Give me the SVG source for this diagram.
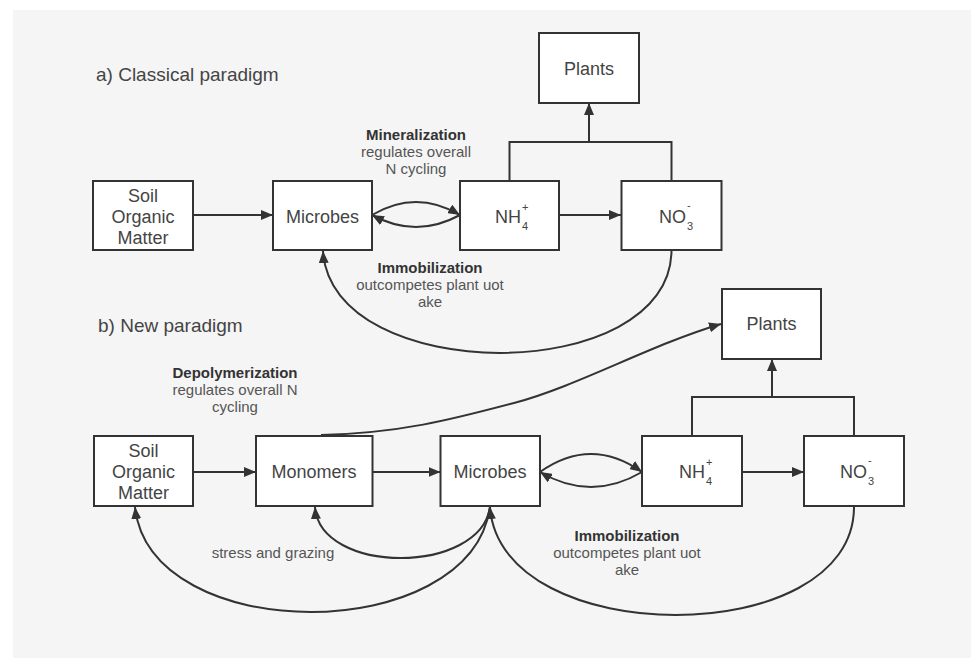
<svg xmlns="http://www.w3.org/2000/svg" width="971" height="668" viewBox="0 0 971 668">
<defs>
<marker id="arr" markerUnits="userSpaceOnUse" markerWidth="12" markerHeight="10" refX="12" refY="5" orient="auto">
<path d="M0,0 L12,5 L0,10 z" fill="#333"/>
</marker>
<style>
.box{fill:#fff;stroke:#333;stroke-width:2}
.lbl{font-family:"Liberation Sans","Noto Sans",sans-serif;font-size:18px;fill:#444;text-anchor:middle}
.sm{font-family:"Liberation Sans","Noto Sans",sans-serif;font-size:11px;fill:#444}
.note{font-family:"Liberation Sans","Noto Sans",sans-serif;font-size:15px;fill:#555;text-anchor:middle}
.bold{font-weight:bold;fill:#333}
.title{font-family:"Liberation Sans","Noto Sans",sans-serif;font-size:19px;fill:#444}
.c{fill:none;stroke:#333;stroke-width:2}
.ca{fill:none;stroke:#333;stroke-width:2;marker-end:url(#arr)}
</style>
</defs>
<rect x="13" y="10" width="958" height="648" fill="#f5f5f5"/>
<text class="title" x="96" y="81">a) Classical paradigm</text>
<text class="title" x="98" y="332">b) New paradigm</text>

<g id="connectors">
<path class="ca" d="M193,215 L273,215"/>
<path class="ca" d="M559,215 L621,215"/>
<path class="ca" d="M372,215 Q416,189 460,215"/>
<path class="ca" d="M460,215 Q416,239 372,215"/>
<path class="c" d="M509.5,181 L509.5,142 L671.5,142 L671.5,181"/>
<path class="ca" d="M589,142 L589,103"/>
<path class="ca" d="M671.5,250 C671.5,387 331,387 323,251"/>
<path class="ca" d="M193,472 L256,472"/>
<path class="ca" d="M372.5,472 L440.5,472"/>
<path class="ca" d="M742,472 L804,472"/>
<path class="ca" d="M540,472 Q591,436 642,472"/>
<path class="ca" d="M642,472 Q591,502 540,472"/>
<path class="c" d="M692,436 L692,397 L854,397 L854,436"/>
<path class="ca" d="M772,397 L772,359"/>
<path class="ca" d="M321,435 C400,433 450,420 514,403 S650,345 721,324"/>
<path class="ca" d="M490,507 C480,575 320,575 315,507"/>
<path class="ca" d="M490,507 C470,647 150,647 135,507"/>
<path class="ca" d="M854,507 C854,651 500,651 490,507"/>
</g>

<g id="a-plants">
<rect class="box" x="539" y="33" width="100" height="70"/>
<text class="lbl" x="589" y="75">Plants</text>
</g>
<g id="a-som">
<rect class="box" x="93" y="181" width="100" height="69"/>
<text class="lbl" x="143" y="202">Soil</text>
<text class="lbl" x="143" y="223">Organic</text>
<text class="lbl" x="143" y="244">Matter</text>
</g>
<g id="a-microbes">
<rect class="box" x="273" y="181" width="99" height="69"/>
<text class="lbl" x="322.5" y="223">Microbes</text>
</g>
<g id="a-nh4">
<rect class="box" x="460" y="181" width="99" height="69"/>
<text class="lbl" x="495" y="223" style="text-anchor:start">NH</text>
<text class="sm" x="522" y="211">+</text>
<text class="sm" x="522" y="230">4</text>
</g>
<g id="a-no3">
<rect class="box" x="621.5" y="181" width="100" height="69"/>
<text class="lbl" x="659" y="223" style="text-anchor:start">NO</text>
<text class="sm" x="687" y="209">-</text>
<text class="sm" x="687" y="230">3</text>
</g>
<g id="a-labels">
<text class="note bold" x="416" y="140">Mineralization</text>
<text class="note" x="416" y="157">regulates overall</text>
<text class="note" x="416" y="174">N cycling</text>
<text class="note bold" x="430" y="273">Immobilization</text>
<text class="note" x="430" y="290">outcompetes plant uot</text>
<text class="note" x="430" y="307">ake</text>
</g>

<g id="b-plants">
<rect class="box" x="722" y="289" width="99" height="70"/>
<text class="lbl" x="771.5" y="330">Plants</text>
</g>
<g id="b-som">
<rect class="box" x="94" y="436" width="99" height="70"/>
<text class="lbl" x="143.5" y="457">Soil</text>
<text class="lbl" x="143.5" y="478">Organic</text>
<text class="lbl" x="143.5" y="499">Matter</text>
</g>
<g id="b-monomers">
<rect class="box" x="256" y="436" width="116.5" height="70"/>
<text class="lbl" x="314" y="478">Monomers</text>
</g>
<g id="b-microbes">
<rect class="box" x="440.5" y="436" width="99.5" height="70"/>
<text class="lbl" x="490" y="478">Microbes</text>
</g>
<g id="b-nh4">
<rect class="box" x="642" y="436" width="100" height="70"/>
<text class="lbl" x="679" y="478" style="text-anchor:start">NH</text>
<text class="sm" x="706" y="466">+</text>
<text class="sm" x="706" y="485">4</text>
</g>
<g id="b-no3">
<rect class="box" x="804" y="436" width="100" height="70"/>
<text class="lbl" x="840" y="478" style="text-anchor:start">NO</text>
<text class="sm" x="868" y="464">-</text>
<text class="sm" x="868" y="485">3</text>
</g>
<g id="b-labels">
<text class="note bold" x="235" y="378">Depolymerization</text>
<text class="note" x="235" y="395">regulates overall N</text>
<text class="note" x="235" y="412">cycling</text>
<text class="note" x="273" y="558">stress and grazing</text>
<text class="note bold" x="627" y="541">Immobilization</text>
<text class="note" x="627" y="558">outcompetes plant uot</text>
<text class="note" x="627" y="575">ake</text>
</g>
</svg>
